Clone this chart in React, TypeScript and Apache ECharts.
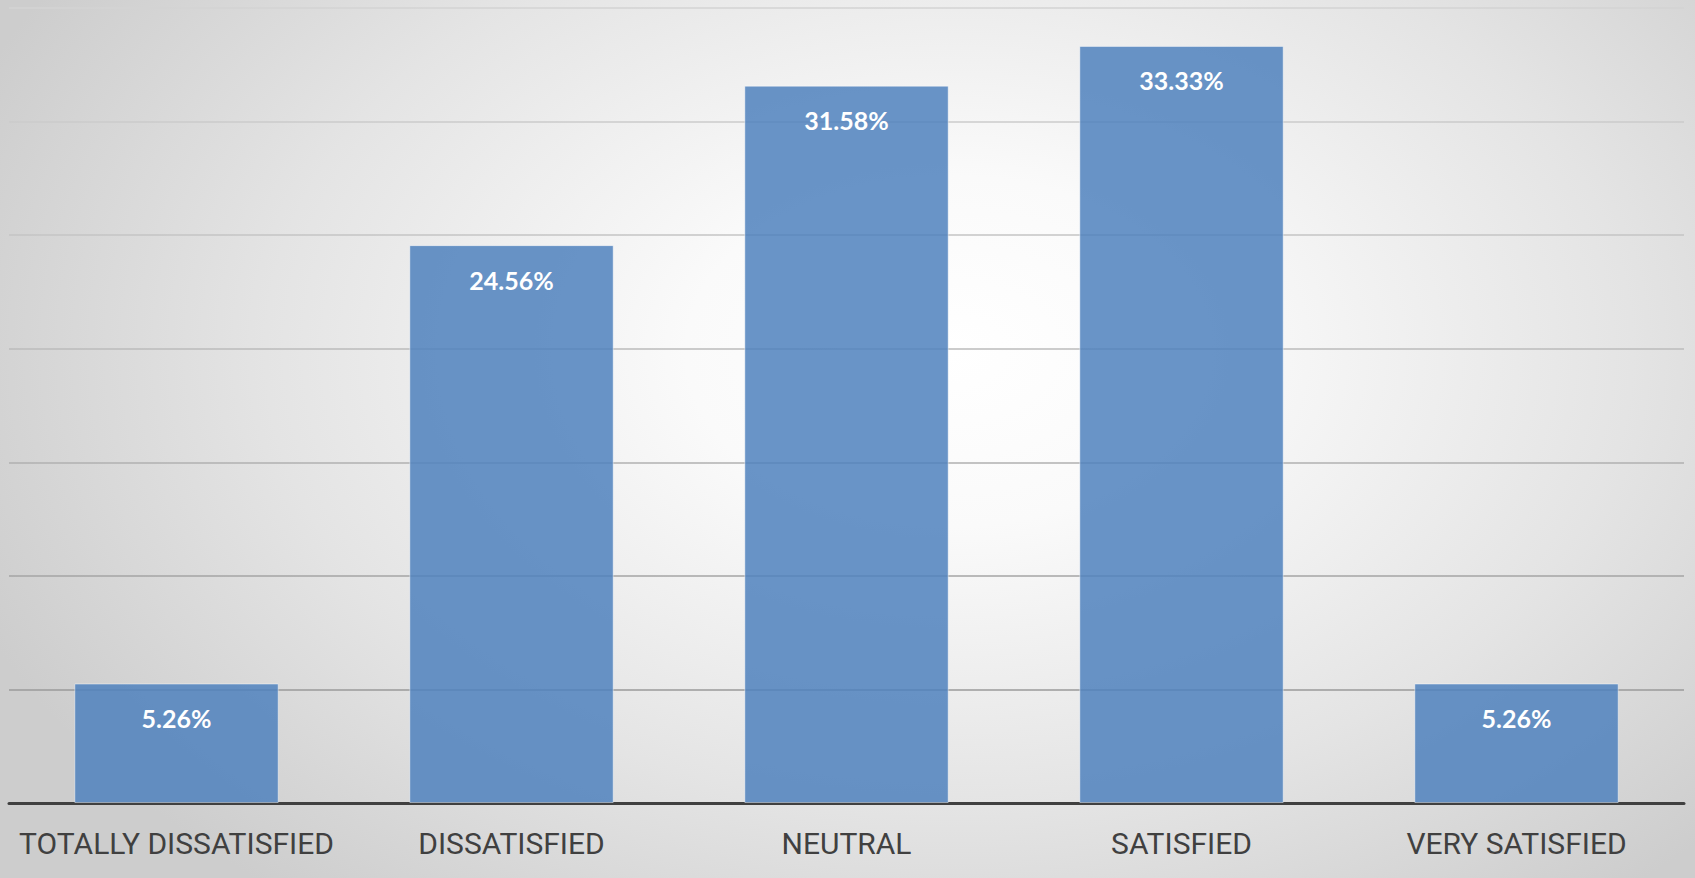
import React, { useEffect, useRef } from "react";
import * as echarts from "echarts";

const categories = ["TOTALLY DISSATISFIED", "DISSATISFIED", "NEUTRAL", "SATISFIED", "VERY SATISFIED"];
const values = [5.26, 24.56, 31.58, 33.33, 5.26];
const gridColors = ["#909090", "#9a9a9a", "#a4a4a4", "#b0b0b0", "#bbbbbb", "#c4c4c4", "#cbcbcb", "#d3d3d3"];

export default function App() {
  const ref = useRef<HTMLDivElement>(null);
  useEffect(() => {
    document.body.style.margin = "0";
    const chart = echarts.init(ref.current!, null, { renderer: "svg" });
    chart.setOption({
      animation: false,
      backgroundColor: "transparent",
      grid: { left: 9, right: 11, top: 8, bottom: 75, containLabel: false },
      xAxis: {
        type: "category",
        data: categories,
        axisLine: { show: true, lineStyle: { color: "#404040", width: 3 } },
        axisTick: { show: false },
        axisLabel: {
          color: "#404040",
          fontFamily: "Roboto",
          fontSize: 30,
          margin: 25,
          interval: 0,
        },
      },
      yAxis: {
        type: "value",
        min: 0,
        max: 35,
        interval: 5,
        axisLabel: { show: false },
        axisLine: { show: false },
        axisTick: { show: false },
        splitLine: { show: true, lineStyle: { color: gridColors, width: 1.5 } },
      },
      series: [
        {
          type: "bar",
          data: values,
          barCategoryGap: "39%",
          itemStyle: {
            color: "rgba(79,129,189,0.85)",
            borderColor: "rgba(255,255,255,0.45)",
            borderWidth: 1,
          },
          label: {
            show: true,
            position: "insideTop",
            distance: 22,
            color: "#ffffff",
            fontFamily: "Lato",
            fontWeight: "bold",
            fontSize: 25,
            formatter: (p: any) => p.value.toFixed(2) + "%",
          },
        },
      ],
    });
    return () => chart.dispose();
  }, []);
  return (
    <div
      ref={ref}
      style={{
        position: "fixed",
        left: 0,
        top: 0,
        width: 1695,
        height: 878,
        background:
          "radial-gradient(ellipse 62% 80% at 56% 40%, #ffffff 0%, #fafafa 25%, #e4e4e4 65%, #cdcdcd 100%)",
        backgroundColor: "#c8c8c8",
      }}
    />
  );
}
